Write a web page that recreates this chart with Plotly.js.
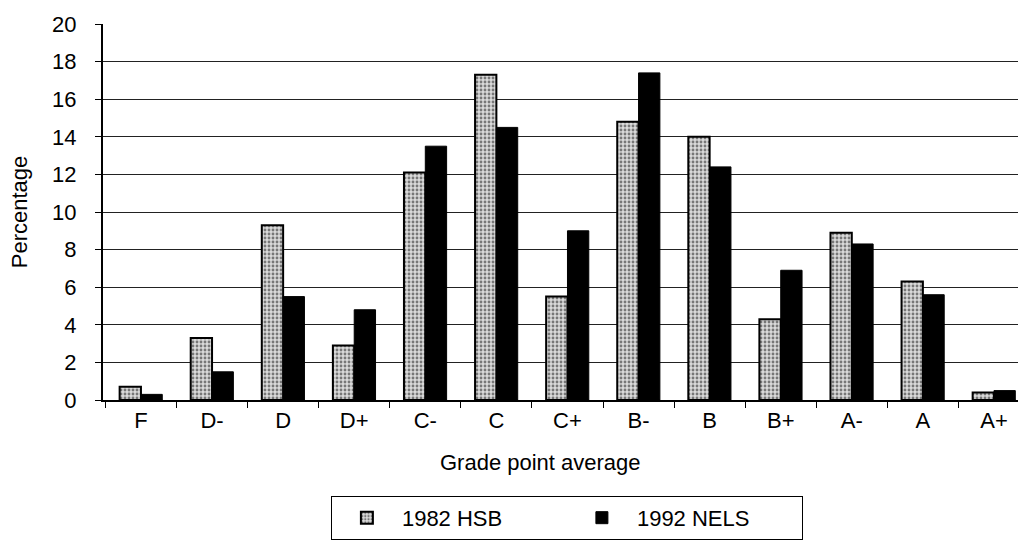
<!DOCTYPE html>
<html><head><meta charset="utf-8">
<script src="https://cdn.plot.ly/plotly-3.0.1.min.js"></script>
<style>body{margin:0;background:#fff}#c{width:1019px;height:544px}</style>
</head><body><div id="c"></div>
<script>
const grades = ["F","D-","D","D+","C-","C","C+","B-","B","B+","A-","A","A+"];
const hsb1982 = [0.7,3.3,9.3,2.9,12.1,17.3,5.5,14.8,14.0,4.3,8.9,6.3,0.4];
const nels1992 = [0.3,1.5,5.5,4.8,13.5,14.5,9.0,17.4,12.4,6.9,8.3,5.6,0.5];
const yTicks = [0,2,4,6,8,10,12,14,16,18,20];
const FONT = "Liberation Sans, Arial, sans-serif";
const traces = [
  {type:"bar", name:"1982 HSB", x:grades, y:hsb1982,
   marker:{color:"#d6d6d6", line:{color:"#000", width:2},
     pattern:{shape:".", fgcolor:"#777", bgcolor:"#dadada", size:4, solidity:0.4}}},
  {type:"bar", name:"1992 NELS", x:grades, y:nels1992,
   marker:{color:"#000", line:{color:"#000", width:1}}}
];
const layout = {
  width:1019, height:544,
  margin:{l:103, r:1, t:24, b:144},
  paper_bgcolor:"#fff", plot_bgcolor:"#fff",
  font:{family:FONT, size:22, color:"#000"},
  barmode:"group", bargap:0.4, bargroupgap:0,
  showlegend:true,
  legend:{orientation:"h", x:0.507, xanchor:"center", y:-0.255, yanchor:"top",
    bordercolor:"#000", borderwidth:1, font:{size:22, family:FONT},
    itemwidth:60, tracegroupgap:0, entrywidth:160, entrywidthmode:"pixels"},
  xaxis:{type:"category", range:[-0.534, 12.338], tickson:"boundaries",
    ticks:"outside", ticklen:6, tickcolor:"#000", showline:true, linecolor:"#000",
    linewidth:2, showgrid:false, tickfont:{size:22}, automargin:false},
  yaxis:{range:[0,20], tickvals:yTicks, ticks:"outside", ticklen:6, tickcolor:"#000",
    showline:true, linecolor:"#000", linewidth:2, showgrid:true, gridcolor:"#222",
    gridwidth:1, zeroline:false, tickfont:{size:22}, ticklabelstandoff:14,
    automargin:false,
    title:{text:"Percentage", font:{size:22}, standoff:18}},
  annotations:[{text:"Grade point average", xref:"paper", yref:"paper",
    x:0.4776, y:-0.167, xanchor:"center", yanchor:"middle", showarrow:false,
    font:{size:22}}]
};
Plotly.newPlot("c", traces, layout, {displayModeBar:false, staticPlot:true});
</script></body></html>
